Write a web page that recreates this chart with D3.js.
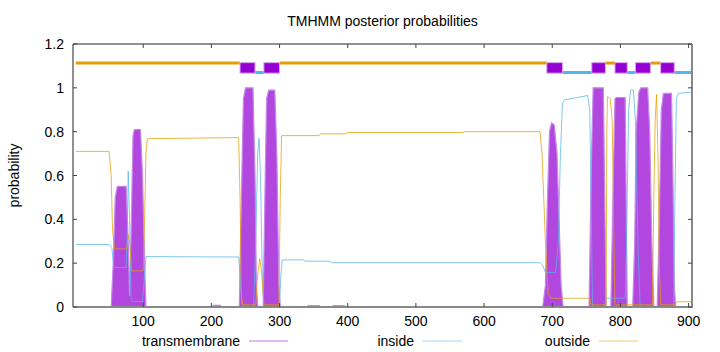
<!DOCTYPE html>
<html>
<head>
    <script src="https://d3js.org/d3.v7.min.js"></script>
    <style>
        body { margin: 0; background-color: #ffffff; }
        text { font-family: "Liberation Sans", Arial, sans-serif; fill: #000; }
    </style>
</head>
<body>
    <svg id="canvas" width="720" height="352"></svg>
    <script>
        const svg = d3.select('#canvas');
        const WIDTH = 720;
        const HEIGHT = 352;
        const margin = { left: 73, right: 28, top: 44, bottom: 45 };

        const TM_COLOR = '#9400d3';
        const IN_COLOR = '#56b4e9';
        const OUT_COLOR = '#e69f00';

        //posterior probabilities, [residue, probability]
        const transmembrane = [
            [1, 0], [53, 0], [56, 0.2], [59, 0.5], [62, 0.55], [75, 0.55], [78, 0.3], [80, 0.05],
            [82, 0.3], [85, 0.78], [87, 0.81], [96, 0.81], [99, 0.6], [102, 0.2], [104, 0],
            [201, 0], [203, 0.008], [213, 0.008], [215, 0], [241, 0], [244, 0.5], [247, 0.95],
            [250, 1.0], [261, 1.0], [264, 0.6], [266, 0.1], [268, 0], [276, 0], [279, 0.6],
            [281, 0.95], [284, 0.99], [293, 0.99], [296, 0.7], [299, 0.1], [301, 0],
            [340, 0], [342, 0.006], [358, 0.006], [360, 0], [377, 0], [379, 0.006], [395, 0.006],
            [397, 0], [686, 0], [690, 0.1], [693, 0.5], [696, 0.8], [699, 0.84], [703, 0.83],
            [707, 0.7], [710, 0.4], [713, 0.1], [716, 0], [754, 0], [757, 0.6], [760, 1.0],
            [775, 1.0], [777, 0.5], [779, 0], [786, 0], [789, 0.5], [792, 0.95], [794, 0.956],
            [807, 0.956], [809, 0.3], [810, 0], [818, 0], [821, 0.3], [823, 0.8], [827, 0.98],
            [830, 1.0], [840, 1.0], [843, 0.8], [846, 0.3], [849, 0], [854, 0], [857, 0.4],
            [860, 0.9], [863, 0.975], [875, 0.975], [877, 0.6], [879, 0.1], [881, 0], [904, 0]
        ];

        const inside = [
            [1, 0.285], [50, 0.285], [54, 0.27], [57, 0.18], [75, 0.18], [77, 0.4], [78, 0.62],
            [80, 0.4], [82, 0.05], [84, 0.025], [99, 0.025], [102, 0.15], [104, 0.23],
            [240, 0.228], [243, 0.1], [245, 0], [262, 0], [265, 0.3], [268, 0.7], [270, 0.77],
            [272, 0.6], [275, 0.1], [277, 0], [300, 0], [302, 0.15], [304, 0.215], [335, 0.215],
            [338, 0.209], [374, 0.209], [377, 0.202], [682, 0.202], [686, 0.19], [690, 0.157],
            [705, 0.157], [709, 0.3], [712, 0.7], [715, 0.93], [718, 0.945], [735, 0.955],
            [752, 0.965], [755, 0.9], [757, 0.5], [759, 0], [777, 0], [779, 0.04], [807, 0.04],
            [809, 0.3], [812, 0.9], [815, 0.99], [819, 0.99], [822, 0.85], [826, 0.25],
            [829, 0], [878, 0], [880, 0.5], [882, 0.95], [885, 0.975], [904, 0.98]
        ];

        const outside = [
            [1, 0.71], [50, 0.71], [53, 0.6], [55, 0.35], [58, 0.265], [76, 0.265], [78, 0.33],
            [80, 0.3], [83, 0.165], [100, 0.165], [102, 0.4], [104, 0.7], [106, 0.768],
            [240, 0.773], [242, 0.5], [244, 0.05], [246, 0.01], [265, 0.01], [268, 0.15],
            [271, 0.22], [274, 0.15], [277, 0.01], [299, 0.01], [301, 0.5], [303, 0.782],
            [358, 0.782], [360, 0.79], [397, 0.79], [399, 0.796], [569, 0.796], [571, 0.8],
            [682, 0.8], [685, 0.7], [690, 0.3], [694, 0.06], [698, 0.04], [755, 0.04],
            [757, 0.01], [779, 0.01], [780, 0.8], [781, 0.96], [785, 0.95], [788, 0.85],
            [790, 0.4], [792, 0.01], [847, 0.01], [849, 0.5], [851, 0.85], [853, 0.97],
            [855, 0.7], [857, 0.2], [859, 0.01], [880, 0.01], [883, 0.024], [904, 0.024]
        ];

        //predicted topology shown above the curves
        const outsideSegs = [[1, 242], [300, 692], [778, 792], [844, 859]];
        const insideSegs = [[264, 277], [715, 758], [810, 822], [879, 904]];
        const tmSegs = [[242, 264], [277, 300], [692, 715], [758, 778], [792, 810], [822, 844], [859, 879]];

        const xTicks = [100, 200, 300, 400, 500, 600, 700, 800, 900];
        const yTicks = [0, 0.2, 0.4, 0.6, 0.8, 1, 1.2];
        const legendItems = [
            { label: 'transmembrane', color: TM_COLOR },
            { label: 'inside', color: IN_COLOR },
            { label: 'outside', color: OUT_COLOR }
        ];

        const x = d3.scaleLinear().domain([-3, 905]).range([margin.left, WIDTH - margin.right]);
        const y = d3.scaleLinear().domain([0, 1.2]).range([HEIGHT - margin.bottom, margin.top]);

        //title
        svg.append('text')
            .attr('x', (x.range()[0] + x.range()[1]) / 2)
            .attr('y', 26)
            .attr('text-anchor', 'middle')
            .attr('font-size', 14)
            .text('TMHMM posterior probabilities');

        //y label
        svg.append('text')
            .attr('transform', `translate(19,${(y.range()[0] + y.range()[1]) / 2}) rotate(-90)`)
            .attr('text-anchor', 'middle')
            .attr('font-size', 14)
            .text('probability');

        //transmembrane area (gnuplot impulses), soft light edge
        svg.append('path')
            .datum(transmembrane)
            .attr('fill', TM_COLOR)
            .attr('fill-opacity', 0.72)
            .attr('stroke', '#c48ae6')
            .attr('stroke-width', 1.2)
            .attr('d', d3.area().x(d => x(d[0])).y0(y(0)).y1(d => y(d[1])));

        //inside / outside lines
        svg.append('path')
            .datum(inside)
            .attr('fill', 'none')
            .attr('stroke', IN_COLOR)
            .attr('stroke-opacity', 0.75)
            .attr('stroke-width', 1)
            .attr('d', d3.line().x(d => x(d[0])).y(d => y(d[1])));

        svg.append('path')
            .datum(outside)
            .attr('fill', 'none')
            .attr('stroke', OUT_COLOR)
            .attr('stroke-opacity', 0.75)
            .attr('stroke-width', 1)
            .attr('d', d3.line().x(d => x(d[0])).y(d => y(d[1])));

        //topology bar
        svg.selectAll('.seg-out')
            .data(outsideSegs)
            .enter()
            .append('line')
            .attr('x1', d => x(d[0]))
            .attr('x2', d => x(d[1]))
            .attr('y1', y(1.113))
            .attr('y2', y(1.113))
            .attr('stroke', OUT_COLOR)
            .attr('stroke-width', 3);

        svg.selectAll('.seg-in')
            .data(insideSegs)
            .enter()
            .append('line')
            .attr('x1', d => x(d[0]))
            .attr('x2', d => x(d[1]))
            .attr('y1', y(1.07))
            .attr('y2', y(1.07))
            .attr('stroke', IN_COLOR)
            .attr('stroke-width', 3);

        svg.selectAll('.seg-tm')
            .data(tmSegs)
            .enter()
            .append('rect')
            .attr('x', d => x(d[0]))
            .attr('width', d => x(d[1]) - x(d[0]))
            .attr('y', y(1.115))
            .attr('height', y(1.067) - y(1.115))
            .attr('fill', TM_COLOR)
            .attr('stroke', '#dba6f0')
            .attr('stroke-width', 1);

        //border
        const [x0, x1] = x.range();
        const [yb, yt] = y.range();
        svg.append('line').attr('x1', x0).attr('x2', x1).attr('y1', yt).attr('y2', yt)
            .attr('stroke', '#222').attr('stroke-width', 1);
        svg.append('line').attr('x1', x0).attr('x2', x0).attr('y1', yt).attr('y2', yb)
            .attr('stroke', '#222').attr('stroke-width', 1);
        svg.append('line').attr('x1', x0).attr('x2', x1 + 1).attr('y1', yb).attr('y2', yb)
            .attr('stroke', '#888').attr('stroke-width', 2);
        svg.append('line').attr('x1', x1).attr('x2', x1).attr('y1', yt).attr('y2', yb)
            .attr('stroke', '#888').attr('stroke-width', 2);

        //ticks, inward and mirrored
        const tickG = svg.append('g').attr('stroke', '#444').attr('stroke-width', 1);
        xTicks.forEach(t => {
            tickG.append('line').attr('x1', x(t)).attr('x2', x(t)).attr('y1', yb).attr('y2', yb - 4);
            tickG.append('line').attr('x1', x(t)).attr('x2', x(t)).attr('y1', yt).attr('y2', yt + 4);
        });
        yTicks.forEach(t => {
            tickG.append('line').attr('x1', x0).attr('x2', x0 + 4).attr('y1', y(t)).attr('y2', y(t));
            tickG.append('line').attr('x1', x1).attr('x2', x1 - 4).attr('y1', y(t)).attr('y2', y(t));
        });

        svg.selectAll('.xtick')
            .data(xTicks)
            .enter()
            .append('text')
            .attr('x', d => x(d))
            .attr('y', yb + 19)
            .attr('text-anchor', 'middle')
            .attr('font-size', 14)
            .text(d => d);

        svg.selectAll('.ytick')
            .data(yTicks)
            .enter()
            .append('text')
            .attr('x', x0 - 9)
            .attr('y', d => y(d) + 5)
            .attr('text-anchor', 'end')
            .attr('font-size', 14)
            .text(d => d3.format('~g')(d));

        //legend along the bottom
        const legendRight = [240, 414, 590];
        const legend = svg.selectAll('.legend')
            .data(legendItems)
            .enter()
            .append('g')
            .attr('transform', (d, i) => `translate(${legendRight[i]},341)`);
        legend.append('text')
            .attr('x', 0)
            .attr('y', 5)
            .attr('text-anchor', 'end')
            .attr('font-size', 14)
            .text(d => d.label);
        legend.append('line')
            .attr('x1', 9)
            .attr('x2', 48)
            .attr('y1', 0)
            .attr('y2', 0)
            .attr('stroke', d => d.color)
            .attr('stroke-opacity', 0.55)
            .attr('stroke-width', 1);
    </script>
</body>
</html>
